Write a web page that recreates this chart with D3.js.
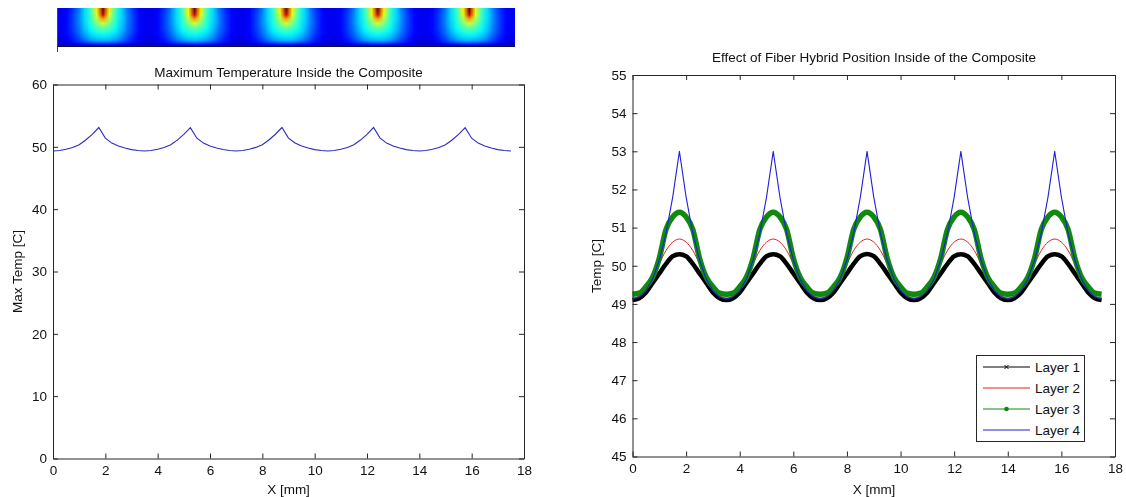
<!DOCTYPE html>
<html>
<head>
<meta charset="utf-8">
<script src="https://cdn.jsdelivr.net/npm/d3@7"></script>
<style>
  html, body { margin: 0; padding: 0; background: #fff; }
  #wrap { position: relative; width: 1126px; height: 497px; }
  #heat { position: absolute; left: 57px; top: 8px; width: 458px; height: 39px; }
  #chart { position: absolute; left: 0; top: 0; }
  text { font-family: "Liberation Sans", Arial, sans-serif; fill: #111; }
</style>
</head>
<body>
<div id="wrap">
  <canvas id="heat"></canvas>
  <svg id="chart" width="1126" height="497"></svg>
</div>
<script>
// x positions (mm), shared by every curve
var xs = [0, 0.25, 0.5, 0.75, 1, 1.25, 1.5, 1.75, 2, 2.25, 2.5, 2.75, 3, 3.25,
  3.5, 3.75, 4, 4.25, 4.5, 4.75, 5, 5.25, 5.5, 5.75, 6, 6.25, 6.5, 6.75,
  7, 7.25, 7.5, 7.75, 8, 8.25, 8.5, 8.75, 9, 9.25, 9.5, 9.75, 10, 10.25, 10.5, 10.75,
  11, 11.25, 11.5, 11.75, 12, 12.25, 12.5, 12.75, 13, 13.25, 13.5, 13.75, 14, 14.25,
  14.5, 14.75, 15, 15.25, 15.5, 15.75, 16, 16.25, 16.5, 16.75, 17, 17.25, 17.5];

// left plot: maximum temperature
var maxTemp = [49.34, 49.42, 49.62, 49.90, 50.35, 51.10, 52.00, 53.10, 51.40, 50.60, 50.15, 49.80, 49.55, 49.40,
  49.33, 49.41, 49.61, 49.90, 50.34, 51.08, 52.00, 53.08, 51.38, 50.60, 50.15, 49.80, 49.56, 49.40,
  49.33, 49.42, 49.62, 49.91, 50.35, 51.10, 52.02, 53.10, 51.40, 50.61, 50.15, 49.80, 49.55, 49.40,
  49.33, 49.41, 49.62, 49.90, 50.35, 51.09, 52.01, 53.10, 51.40, 50.60, 50.14, 49.80, 49.55, 49.40,
  49.33, 49.42, 49.62, 49.90, 50.35, 51.10, 52.00, 53.08, 51.38, 50.60, 50.15, 49.80, 49.55, 49.40,
  49.34];

// right plot: one series per layer
var layer1 = [49.10, 49.15, 49.30, 49.55, 49.80, 50.05, 50.25, 50.30, 50.25, 50.05, 49.80, 49.55, 49.30, 49.15,
  49.10, 49.15, 49.30, 49.55, 49.80, 50.05, 50.25, 50.30, 50.25, 50.05, 49.80, 49.55, 49.30, 49.15,
  49.10, 49.15, 49.30, 49.55, 49.80, 50.05, 50.25, 50.31, 50.25, 50.05, 49.80, 49.55, 49.30, 49.15,
  49.10, 49.15, 49.30, 49.55, 49.80, 50.05, 50.25, 50.30, 50.25, 50.05, 49.80, 49.55, 49.30, 49.15,
  49.10, 49.15, 49.30, 49.55, 49.80, 50.05, 50.25, 50.30, 50.25, 50.05, 49.80, 49.55, 49.30, 49.15,
  49.10];
var layer2 = [49.15, 49.20, 49.40, 49.70, 50.05, 50.40, 50.62, 50.70, 50.62, 50.40, 50.05, 49.70, 49.40, 49.20,
  49.15, 49.20, 49.40, 49.70, 50.05, 50.40, 50.62, 50.70, 50.62, 50.40, 50.05, 49.70, 49.40, 49.20,
  49.15, 49.20, 49.40, 49.70, 50.05, 50.40, 50.62, 50.70, 50.62, 50.40, 50.05, 49.70, 49.40, 49.20,
  49.15, 49.20, 49.40, 49.70, 50.05, 50.40, 50.62, 50.70, 50.62, 50.40, 50.05, 49.70, 49.40, 49.20,
  49.15, 49.20, 49.40, 49.70, 50.05, 50.40, 50.62, 50.70, 50.62, 50.40, 50.05, 49.70, 49.40, 49.20,
  49.15];
var layer3 = [49.25, 49.28, 49.45, 49.70, 50.20, 50.95, 51.28, 51.40, 51.28, 50.95, 50.20, 49.70, 49.45, 49.28,
  49.25, 49.28, 49.45, 49.70, 50.20, 50.95, 51.28, 51.40, 51.28, 50.95, 50.20, 49.70, 49.45, 49.28,
  49.25, 49.28, 49.45, 49.70, 50.20, 50.95, 51.28, 51.40, 51.28, 50.95, 50.20, 49.70, 49.45, 49.28,
  49.25, 49.28, 49.45, 49.70, 50.20, 50.95, 51.28, 51.40, 51.28, 50.95, 50.20, 49.70, 49.45, 49.28,
  49.25, 49.28, 49.45, 49.70, 50.20, 50.95, 51.28, 51.40, 51.28, 50.95, 50.20, 49.70, 49.45, 49.28,
  49.25];
var layer4 = [49.12, 49.18, 49.35, 49.65, 50.15, 50.85, 51.80, 53.00, 51.80, 50.85, 50.15, 49.65, 49.35, 49.18,
  49.12, 49.18, 49.35, 49.65, 50.15, 50.85, 51.80, 53.00, 51.80, 50.85, 50.15, 49.65, 49.35, 49.18,
  49.12, 49.18, 49.35, 49.65, 50.15, 50.85, 51.80, 53.00, 51.80, 50.85, 50.15, 49.65, 49.35, 49.18,
  49.12, 49.18, 49.35, 49.65, 50.15, 50.85, 51.80, 53.00, 51.80, 50.85, 50.15, 49.65, 49.35, 49.18,
  49.12, 49.18, 49.35, 49.65, 50.15, 50.85, 51.80, 53.00, 51.80, 50.85, 50.15, 49.65, 49.35, 49.18,
  49.12];

var layerNames = ["Layer 1", "Layer 2", "Layer 3", "Layer 4"];
var xTicks = [0, 2, 4, 6, 8, 10, 12, 14, 16, 18];
var leftYTicks = [0, 10, 20, 30, 40, 50, 60];
var rightYTicks = [45, 46, 47, 48, 49, 50, 51, 52, 53, 54, 55];

// normalised temperature of one period of the cross-section picture (rows top -> bottom)
var heatTile = [
  [0.10, 0.12, 0.17, 0.24, 0.34, 0.44, 0.64, 1.00, 0.64, 0.44, 0.34, 0.24, 0.17, 0.12, 0.10],
  [0.11, 0.13, 0.18, 0.25, 0.34, 0.43, 0.60, 0.92, 0.60, 0.43, 0.34, 0.25, 0.18, 0.13, 0.11],
  [0.11, 0.13, 0.18, 0.25, 0.34, 0.42, 0.55, 0.72, 0.55, 0.42, 0.34, 0.25, 0.18, 0.13, 0.11],
  [0.11, 0.13, 0.18, 0.25, 0.33, 0.41, 0.50, 0.58, 0.50, 0.41, 0.33, 0.25, 0.18, 0.13, 0.11],
  [0.11, 0.13, 0.18, 0.24, 0.32, 0.39, 0.45, 0.48, 0.45, 0.39, 0.32, 0.24, 0.18, 0.13, 0.11],
  [0.11, 0.13, 0.17, 0.23, 0.30, 0.36, 0.40, 0.42, 0.40, 0.36, 0.30, 0.23, 0.17, 0.13, 0.11],
  [0.10, 0.12, 0.16, 0.21, 0.27, 0.32, 0.35, 0.36, 0.35, 0.32, 0.27, 0.21, 0.16, 0.12, 0.10],
  [0.09, 0.11, 0.14, 0.18, 0.23, 0.27, 0.29, 0.30, 0.29, 0.27, 0.23, 0.18, 0.14, 0.11, 0.09],
  [0.06, 0.07, 0.08, 0.10, 0.11, 0.12, 0.13, 0.13, 0.13, 0.12, 0.11, 0.10, 0.08, 0.07, 0.06]
];
var heatRepeats = 5;

var svg = d3.select("#chart");
var axisColor = "#262626";

var jet = d3.scaleLinear()
  .domain([0, 0.125, 0.375, 0.625, 0.875, 1])
  .range(["#00008f", "#0000ff", "#00ffff", "#ffff00", "#ff0000", "#800000"]);

// ---- heat map strip ----
var cols = heatTile[0].length;
var canvas = document.getElementById("heat");
canvas.width = cols * heatRepeats;
canvas.height = heatTile.length;
var ctx = canvas.getContext("2d");
for (var r = 0; r < heatTile.length; r++) {
  for (var k = 0; k < heatRepeats; k++) {
    heatTile[r].forEach(function(v, c) {
      ctx.fillStyle = jet(v);
      ctx.fillRect(k * cols + c, r, 1, 1);
    });
  }
}
svg.append("line").attr("x1", 57.5).attr("x2", 57.5).attr("y1", 8).attr("y2", 52)
  .attr("stroke", "#444").attr("stroke-width", 1);
svg.append("line").attr("x1", 57).attr("x2", 515).attr("y1", 46.5).attr("y2", 46.5)
  .attr("stroke", "#101050").attr("stroke-width", 1.2);

// ---- shared axis drawing (MATLAB-like box with inward ticks) ----
function drawFrame(x, y, yTicks) {
  var g = svg.append("g");
  var x0 = x.range()[0], x1 = x.range()[1];
  var y0 = y.range()[0], y1 = y.range()[1];

  g.append("g").attr("transform", "translate(0," + y0 + ")")
    .call(d3.axisBottom(x).tickValues(xTicks).tickSizeInner(-5).tickSizeOuter(0).tickPadding(7));
  g.append("g").attr("transform", "translate(0," + y1 + ")")
    .call(d3.axisTop(x).tickValues(xTicks).tickSizeInner(-5).tickSizeOuter(0).tickFormat(""));
  g.append("g").attr("transform", "translate(" + x0 + ",0)")
    .call(d3.axisLeft(y).tickValues(yTicks).tickSizeInner(-5).tickSizeOuter(0).tickPadding(6));
  g.append("g").attr("transform", "translate(" + x1 + ",0)")
    .call(d3.axisRight(y).tickValues(yTicks).tickSizeInner(-5).tickSizeOuter(0).tickFormat(""));

  g.selectAll(".domain").attr("stroke", axisColor);
  g.selectAll(".tick line").attr("stroke", axisColor);
  g.selectAll(".tick text")
    .style("font-family", "'Liberation Sans', Arial, sans-serif")
    .style("font-size", "13.5px")
    .attr("fill", "#111");
  return g;
}

// ---- left chart ----
var xL = d3.scaleLinear().domain([0, 18]).range([53, 524]);
var yL = d3.scaleLinear().domain([0, 60]).range([458.5, 84.5]);

svg.append("rect").attr("x", 53).attr("y", 84.5).attr("width", 471).attr("height", 374)
  .attr("fill", "#fff");

svg.append("path")
  .datum(xs.map(function(d, i) { return [d, maxTemp[i]]; }))
  .attr("fill", "none")
  .attr("stroke", "#2b2bc4")
  .attr("stroke-width", 1.1)
  .attr("d", d3.line().x(function(d) { return xL(d[0]); }).y(function(d) { return yL(d[1]); }));

drawFrame(xL, yL, leftYTicks);

svg.append("text").attr("x", 288.5).attr("y", 77).attr("text-anchor", "middle")
  .style("font-size", "13.5px").text("Maximum Temperature Inside the Composite");
svg.append("text").attr("x", 288.5).attr("y", 494).attr("text-anchor", "middle")
  .style("font-size", "13.5px").text("X [mm]");
svg.append("text").attr("transform", "translate(22,271.5) rotate(-90)").attr("text-anchor", "middle")
  .style("font-size", "13.5px").text("Max Temp [C]");

// ---- right chart ----
var xR = d3.scaleLinear().domain([0, 18]).range([632.5, 1115]);
var yR = d3.scaleLinear().domain([45, 55]).range([456.5, 75]);

var layers = [
  { values: layer1, color: "#000000", width: 4.5, curve: d3.curveMonotoneX },
  { values: layer2, color: "#e02020", width: 1, curve: d3.curveMonotoneX },
  { values: layer3, color: "#0f8a0f", width: 5.5, curve: d3.curveMonotoneX },
  { values: layer4, color: "#2020d8", width: 1.1, curve: d3.curveLinear }
];

layers.forEach(function(s) {
  svg.append("path")
    .datum(xs.map(function(d, i) { return [d, s.values[i]]; }))
    .attr("fill", "none")
    .attr("stroke", s.color)
    .attr("stroke-width", s.width)
    .attr("stroke-linejoin", "round")
    .attr("d", d3.line().curve(s.curve)
      .x(function(d) { return xR(d[0]); })
      .y(function(d) { return yR(d[1]); }));
});

drawFrame(xR, yR, rightYTicks);

svg.append("text").attr("x", 874).attr("y", 62).attr("text-anchor", "middle")
  .style("font-size", "13.5px").text("Effect of Fiber Hybrid Position Inside of the Composite");
svg.append("text").attr("x", 874).attr("y", 494).attr("text-anchor", "middle")
  .style("font-size", "13.5px").text("X [mm]");
svg.append("text").attr("transform", "translate(601,266) rotate(-90)").attr("text-anchor", "middle")
  .style("font-size", "13.5px").text("Temp [C]");

// ---- legend ----
var leg = svg.append("g");
leg.append("rect").attr("x", 976.5).attr("y", 355.5).attr("width", 108).attr("height", 86)
  .attr("fill", "#fff").attr("stroke", axisColor).attr("stroke-width", 1);
layerNames.forEach(function(name, i) {
  var yy = 367 + i * 21;
  var s = layers[i];
  leg.append("line").attr("x1", 983).attr("x2", 1030).attr("y1", yy).attr("y2", yy)
    .attr("stroke", s.color).attr("stroke-width", 1);
  if (i === 0) {
    leg.append("path").attr("d", "M1004.5," + (yy - 2) + "l4,4M1004.5," + (yy + 2) + "l4,-4")
      .attr("stroke", s.color).attr("stroke-width", 1);
  }
  if (i === 2) {
    leg.append("circle").attr("cx", 1006.5).attr("cy", yy).attr("r", 2.3).attr("fill", s.color);
  }
  leg.append("text").attr("x", 1035).attr("y", yy + 5).style("font-size", "13.5px").text(name);
});
</script>
</body>
</html>
